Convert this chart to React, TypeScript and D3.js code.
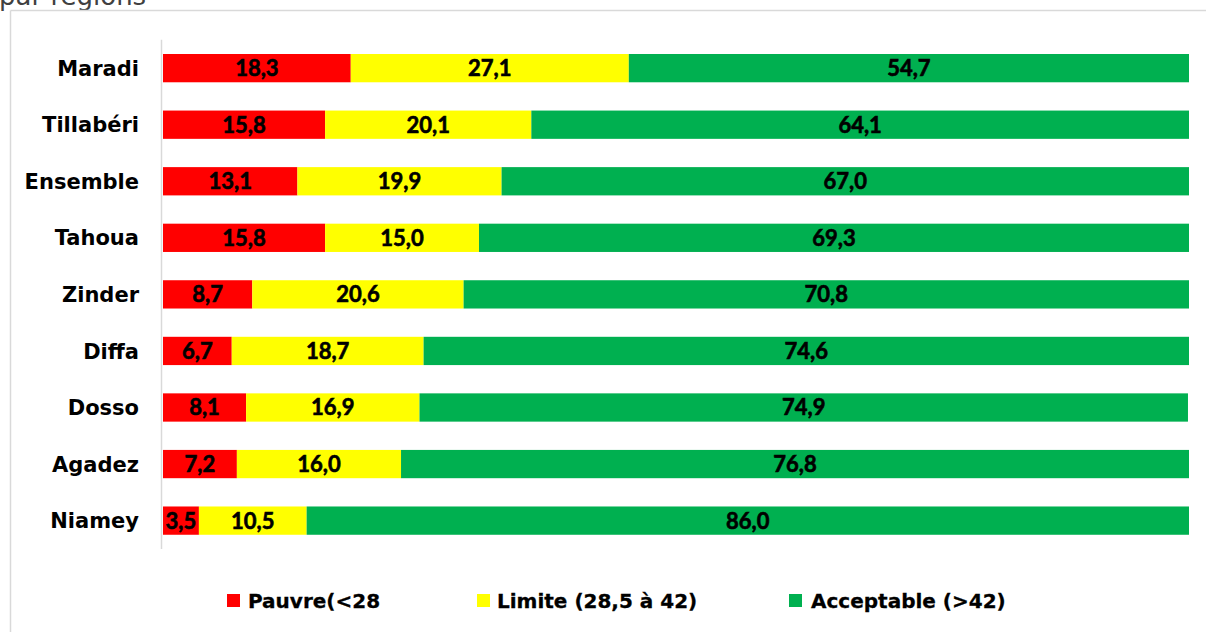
import React from "react";
import * as d3 from "d3";

const regions = ["Maradi", "Tillabéri", "Ensemble", "Tahoua", "Zinder", "Diffa", "Dosso", "Agadez", "Niamey"];
const pauvre = [18.3, 15.8, 13.1, 15.8, 8.7, 6.7, 8.1, 7.2, 3.5];
const limite = [27.1, 20.1, 19.9, 15.0, 20.6, 18.7, 16.9, 16.0, 10.5];
const acceptable = [54.7, 64.1, 67.0, 69.3, 70.8, 74.6, 74.9, 76.8, 86.0];
const seriesNames = ["Pauvre(<28", "Limite (28,5 à 42)", "Acceptable (>42)"];
const seriesColors = ["#ff0000", "#ffff00", "#00b050"];
const titleText = "par régions";

const W = 1206;
const H = 632;

export default function App() {
  const x = d3.scaleLinear().domain([0, 100]).range([163, 1189]);
  const y = d3.scaleBand<string>().domain(regions).range([39.86, 548.9]).paddingInner(0.5).paddingOuter(0.25);
  const rows = regions.map((r, i) => ({ region: r, Pauvre: pauvre[i], Limite: limite[i], Acceptable: acceptable[i] }));
  const keys = ["Pauvre", "Limite", "Acceptable"];
  const stack = d3.stack<any>().keys(keys)(rows);
  const fmt = (v: number) => v.toFixed(1).replace(".", ",");
  const legendX = [227, 477, 789];
  const legendTextDx = [21, 20, 22];

  return (
    <div style={{ position: "fixed", left: 0, top: 0, width: W, height: H, background: "#fff" }}>
      <svg width={W} height={H} style={{ display: "block" }}>
        <rect x={0} y={0} width={W} height={H} fill="#fff" />
        <text x={-1} y={5} fontFamily="DejaVu Sans, sans-serif" fontSize={26} fill="#404040">{titleText}</text>
        <line x1={10.5} x2={W} y1={10.5} y2={10.5} stroke="#d9d9d9" strokeWidth={1.5} />
        <line x1={10.5} x2={10.5} y1={10.5} y2={H} stroke="#d9d9d9" strokeWidth={1.5} />
        <defs>
          <clipPath id="plotclip">
            <rect x={x(0)} y={0} width={x(100) - x(0)} height={H} />
          </clipPath>
        </defs>
        <g clipPath="url(#plotclip)">
          {stack.map((s, si) =>
            s.map((d, i) => (
              <rect key={si + "-" + i} x={x(d[0])} y={y(regions[i])} width={x(d[1]) - x(d[0])} height={y.bandwidth()} fill={seriesColors[si]} />
            ))
          )}
        </g>
        <line x1={161.5} x2={161.5} y1={y.range()[0]} y2={y.range()[1]} stroke="#d9d9d9" strokeWidth={1.5} />
        {stack.map((s, si) =>
          s.map((d, i) => (
            <text key={"l" + si + "-" + i} x={(x(d[0]) + x(Math.min(d[1], 100))) / 2} y={(y(regions[i]) as number) + y.bandwidth() / 2} dy="0.36em" textAnchor="middle" fontFamily="Lato, sans-serif" fontWeight="bold" fontSize={22} fill="#000" stroke="#000" strokeWidth={0.6}>
              {fmt(d[1] - d[0])}
            </text>
          ))
        )}
        {regions.map((r) => (
          <text key={r} x={139} y={(y(r) as number) + y.bandwidth() / 2} dy="0.36em" textAnchor="end" fontFamily="DejaVu Sans, sans-serif" fontWeight="bold" fontSize={21} fill="#000">
            {r}
          </text>
        ))}
        {seriesNames.map((n, i) => (
          <g key={n}>
            <rect x={legendX[i]} y={594} width={13} height={13} fill={seriesColors[i]} />
            <text x={legendX[i] + legendTextDx[i]} y={608} fontFamily="DejaVu Sans, sans-serif" fontWeight="bold" fontSize={20} fill="#000" stroke="#000" strokeWidth={0.3}>
              {n}
            </text>
          </g>
        ))}
      </svg>
    </div>
  );
}
